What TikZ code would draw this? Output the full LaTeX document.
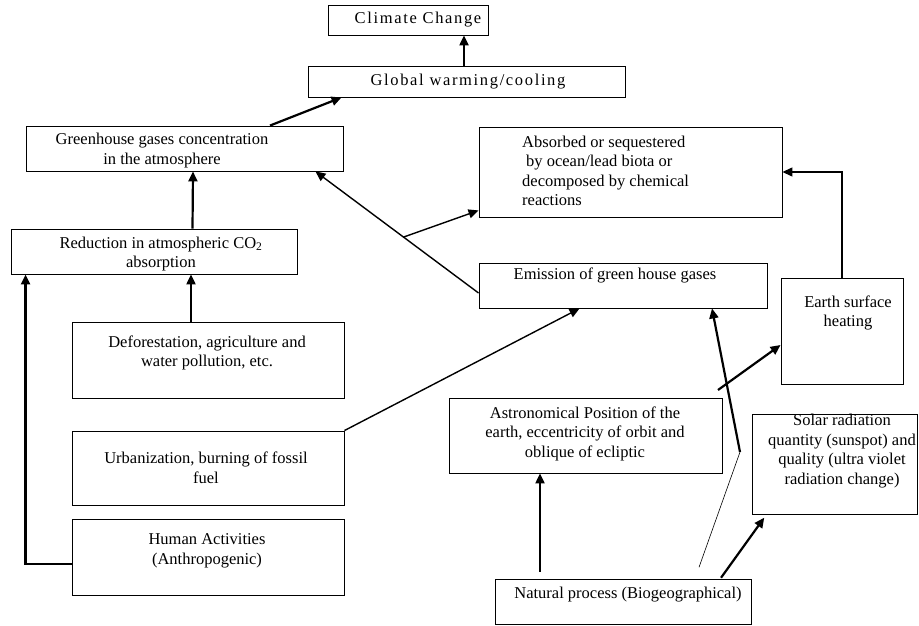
\documentclass[tikz,border=0pt]{standalone}
\usepackage{fontspec}
\setmainfont{Liberation Serif}
\usetikzlibrary{arrows.meta}

\begin{document}
\begin{tikzpicture}[x=1pt, y=-1pt,
  box/.style={draw, line width=0.9pt, inner sep=0pt},
  txt/.style={align=center, inner sep=0pt, font=\fontsize{16.5}{19.5}\selectfont},
  wide/.style={font=\fontsize{16.5}{19.5}\selectfont\addfontfeatures{LetterSpace=10}},
  flow/.style={line width=2.2pt, -{Triangle[length=10pt, width=9pt]}},
  link/.style={line width=1.4pt, -{Triangle[length=10pt, width=9pt]}}]
  \useasboundingbox (0,0) rectangle (919,626);
  % boxes
  \node[box, minimum width=160pt, minimum height=30pt] (climate) at (408,20) {};
  \node[box, minimum width=317pt, minimum height=31pt] (global) at (466.5,81.5) {};
  \node[box, minimum width=317pt, minimum height=45pt] (green) at (184.5,148.5) {};
  \node[box, minimum width=303pt, minimum height=90pt] (absorb) at (630.5,172) {};
  \node[box, minimum width=286pt, minimum height=45pt] (reduct) at (154,251.5) {};
  \node[box, minimum width=288pt, minimum height=45pt] (emission) at (623,285.5) {};
  \node[box, minimum width=122pt, minimum height=106pt] (earth) at (842,331) {};
  \node[box, minimum width=272pt, minimum height=76pt] (defor) at (208,360) {};
  \node[box, minimum width=272pt, minimum height=74pt] (urban) at (208,468) {};
  \node[box, minimum width=272pt, minimum height=76pt] (human) at (208,557) {};
  \node[box, minimum width=273pt, minimum height=75pt] (astro) at (585.5,435.5) {};
  \node[box, minimum width=165pt, minimum height=100pt] (solar) at (834.5,464) {};
  \node[box, minimum width=256pt, minimum height=45pt] (natural) at (623,601.5) {};
  % texts
  \node[txt, wide] (climate-t) at (418,20) {Climate Change};
  \node[txt, wide] (global-t) at (468,82) {Global warming/cooling};
  \node[txt] (green-t) at (162,150.5) {Greenhouse gases concentration\\in the atmosphere};
  \node[txt, anchor=west, align=left] (absorb-t) at (522,171) {Absorbed or sequestered\\\hspace*{4pt}by ocean/lead biota or\\decomposed by chemical\\reactions};
  \node[txt] (reduct-t) at (161,254) {Reduction in atmospheric CO\textsubscript{2}\\absorption};
  \node[txt] (emission-t) at (615,275) {Emission of green house gases};
  \node[txt] (earth-t) at (848,313) {Earth surface\\heating};
  \node[txt] (defor-t) at (207,353) {Deforestation, agriculture and\\water pollution, etc.};
  \node[txt] (urban-t) at (206,468) {Urbanization, burning of fossil\\fuel};
  \node[txt] (human-t) at (207,551) {Human Activities\\(Anthropogenic)};
  \node[txt] (astro-t) at (585,433.5) {Astronomical Position of the\\earth, eccentricity of orbit and\\oblique of ecliptic};
  \node[txt] (solar-t) at (842,451) {Solar radiation\\quantity (sunspot) and\\quality (ultra violet\\radiation change)};
  \node[txt] (natural-t) at (628,595) {Natural process (Biogeographical)};
  % arrows
  \draw[flow] ([xshift=-2.5pt]global.north) -- ([xshift=56pt]climate.south);
  \draw[flow] ([xshift=85.5pt]green.north) -- ([xshift=34pt]global.south west);
  \draw[flow] ([xshift=38.5pt]reduct.north) -- ([xshift=8.5pt]green.south);
  \draw[flow] ([xshift=-17pt]defor.north) -- ([xshift=37pt]reduct.south);
  \draw[flow] ([yshift=-7pt]human.west) -| ([xshift=15pt]reduct.south west);
  \draw[link] (urban.north east) -- ([xshift=101pt]emission.south west);
  \draw[link] ([yshift=-7.5pt]emission.west) -- coordinate[pos=0.46] (split) ([xshift=-28pt]green.south east);
  \draw[link] (split) -- ([yshift=7pt]absorb.south west);
  \draw[link] (earth.north) |- (absorb.east);
  \draw[flow, shorten <=7pt] ([xshift=-83pt]natural.north) -- ([xshift=-45.5pt]astro.south);
  \draw[flow, shorten <=1pt, shorten >=4pt] ([xshift=-31pt]natural.north east) -- ([xshift=15pt]solar.south west);
  \coordinate (kink) at (740,452);
  \draw[line width=0.6pt, shorten <=12pt] ([xshift=72pt]natural.north) -- (kink);
  \draw[flow] (kink) -- ([xshift=89pt]emission.south);
  \coordinate (heat) at (718,390);
  \draw[flow] (heat) -- ([yshift=-14pt]earth.west);
\end{tikzpicture}
\end{document}
